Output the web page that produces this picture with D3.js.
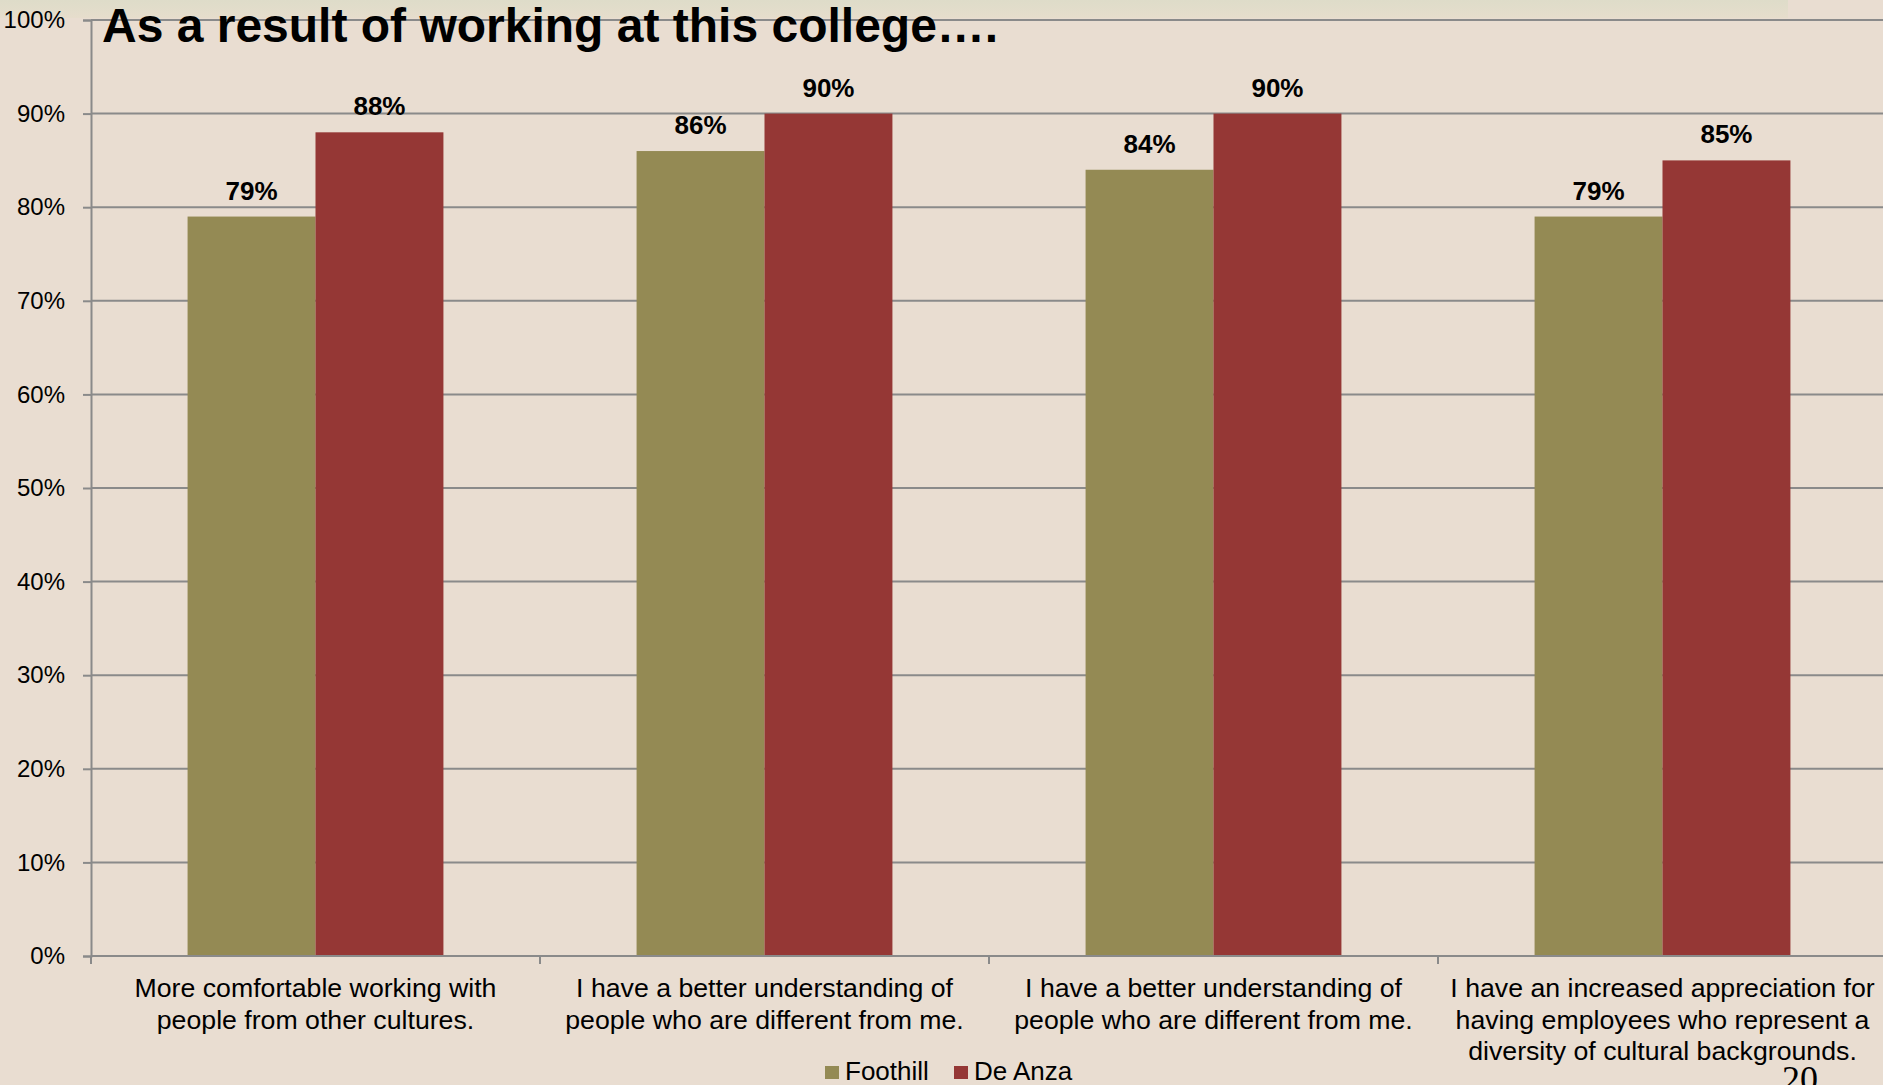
<!DOCTYPE html>
<html>
<head>
<meta charset="utf-8">
<script src="https://cdn.jsdelivr.net/npm/d3@7"></script>
<style>
  html, body { margin: 0; padding: 0; background: #E9DDD1; overflow: hidden; }
  svg { display: block; font-family: "Liberation Sans", Arial, sans-serif; }
</style>
</head>
<body>
<svg id="chart" width="1883" height="1085"></svg>
<script>
const title = "As a result of working at this college….";
const categories = [
  ["More comfortable working with", "people from other cultures."],
  ["I have a better understanding of", "people who are different from me."],
  ["I have a better understanding of", "people who are different from me."],
  ["I have an increased appreciation for", "having employees who represent a", "diversity of cultural backgrounds."]
];
const seriesNames = ["Foothill", "De Anza"];
const foothill = [79, 86, 84, 79];
const deAnza = [88, 90, 90, 85];
const yTicks = [0, 10, 20, 30, 40, 50, 60, 70, 80, 90, 100];
const colors = ["#948A54", "#953735"];
const pageNumber = "20";

(function () {
const svg = d3.select("#chart");
const W = 1883, H = 1085;
const pLeft = 91, pRight = 1887, pTop = 20, pBottom = 956;

svg.append("rect").attr("width", W).attr("height", H).attr("fill", "#E9DDD1");
// faint top strip
const grad = svg.append("defs").append("linearGradient").attr("id", "topg").attr("x1", 0).attr("x2", 0).attr("y1", 0).attr("y2", 1);
grad.append("stop").attr("offset", "0%").attr("stop-color", "#dedcc9");
grad.append("stop").attr("offset", "100%").attr("stop-color", "#e6ddcc");
svg.append("rect").attr("x", 0).attr("y", 0).attr("width", 1788).attr("height", 18).attr("fill", "url(#topg)");

const x0 = d3.scaleBand().domain(d3.range(categories.length)).range([pLeft, pRight]).paddingInner(0).paddingOuter(0);
const x1 = d3.scaleBand().domain(seriesNames).range([0, x0.bandwidth()]).paddingInner(0).paddingOuter(0.755);
const y = d3.scaleLinear().domain([0, 100]).range([pBottom, pTop]);

// gridlines
svg.append("g").selectAll("line").data(yTicks.filter(d => d > 0)).join("line")
  .attr("x1", pLeft).attr("x2", pRight)
  .attr("y1", d => y(d)).attr("y2", d => y(d))
  .attr("stroke", "#8a8a8a").attr("stroke-width", 2);

// y axis
const yAxis = svg.append("g").attr("transform", `translate(${pLeft},0)`)
  .call(d3.axisLeft(y).tickValues(yTicks).tickFormat(d => d + "%").tickSize(8).tickPadding(18));
yAxis.select(".domain").attr("stroke", "#8a8a8a").attr("stroke-width", 2);
yAxis.selectAll(".tick line").attr("stroke", "#8a8a8a").attr("stroke-width", 2);
yAxis.selectAll(".tick text").attr("font-size", 24).attr("fill", "#000").attr("font-family", "Liberation Sans, Arial, sans-serif");

// bars
const groups = svg.append("g").selectAll("g").data(categories.map((c, i) => i)).join("g")
  .attr("transform", i => `translate(${x0(i)},0)`);
groups.selectAll("rect").data(i => [
  {s: seriesNames[0], v: foothill[i], c: colors[0]},
  {s: seriesNames[1], v: deAnza[i], c: colors[1]}
]).join("rect")
  .attr("x", d => x1(d.s)).attr("width", x1.bandwidth())
  .attr("y", d => y(d.v)).attr("height", d => y(0) - y(d.v))
  .attr("fill", d => d.c);

// value labels
groups.selectAll("text").data(i => [
  {s: seriesNames[0], v: foothill[i]},
  {s: seriesNames[1], v: deAnza[i]}
]).join("text")
  .attr("x", d => x1(d.s) + x1.bandwidth() / 2)
  .attr("y", d => y(d.v) - 17)
  .attr("text-anchor", "middle").attr("font-size", 26).attr("font-weight", "bold").attr("fill", "#000")
  .text(d => d.v + "%");

// x axis line and ticks
svg.append("line").attr("x1", pLeft).attr("x2", pRight).attr("y1", pBottom).attr("y2", pBottom)
  .attr("stroke", "#8a8a8a").attr("stroke-width", 2);
svg.append("g").selectAll("line").data(d3.range(categories.length + 1)).join("line")
  .attr("x1", i => i < categories.length ? x0(i) : pRight)
  .attr("x2", i => i < categories.length ? x0(i) : pRight)
  .attr("y1", pBottom).attr("y2", pBottom + 8)
  .attr("stroke", "#8a8a8a").attr("stroke-width", 2);

// category labels
const cl = svg.append("g").selectAll("text").data(categories).join("text")
  .attr("x", (d, i) => x0(i) + x0.bandwidth() / 2)
  .attr("y", 997)
  .attr("text-anchor", "middle").attr("font-size", 26.7).attr("fill", "#000");
cl.selectAll("tspan").data(d => d).join("tspan")
  .attr("x", function() { return this.parentNode.getAttribute("x"); })
  .attr("dy", (d, j) => j === 0 ? 0 : 31.6)
  .text(d => d);

// title
svg.append("text").attr("x", 102).attr("y", 41.5)
  .attr("font-size", 48).attr("font-weight", "bold").attr("fill", "#000")
  .text(title);

// legend
const legendX = [825, 954];
const lg = svg.append("g").selectAll("g").data(seriesNames).join("g")
  .attr("transform", (d, i) => `translate(${legendX[i]},1066)`);
lg.append("rect").attr("width", 14).attr("height", 13).attr("fill", (d, i) => colors[i]);
lg.append("text").attr("x", 20).attr("y", 14).attr("font-size", 26).attr("fill", "#000").text(d => d);

// page number
svg.append("text").attr("x", 1782).attr("y", 1091)
  .attr("font-family", "Liberation Serif, Times New Roman, serif").attr("font-size", 36).attr("fill", "#000")
  .text(pageNumber);
})();
</script>
</body>
</html>
